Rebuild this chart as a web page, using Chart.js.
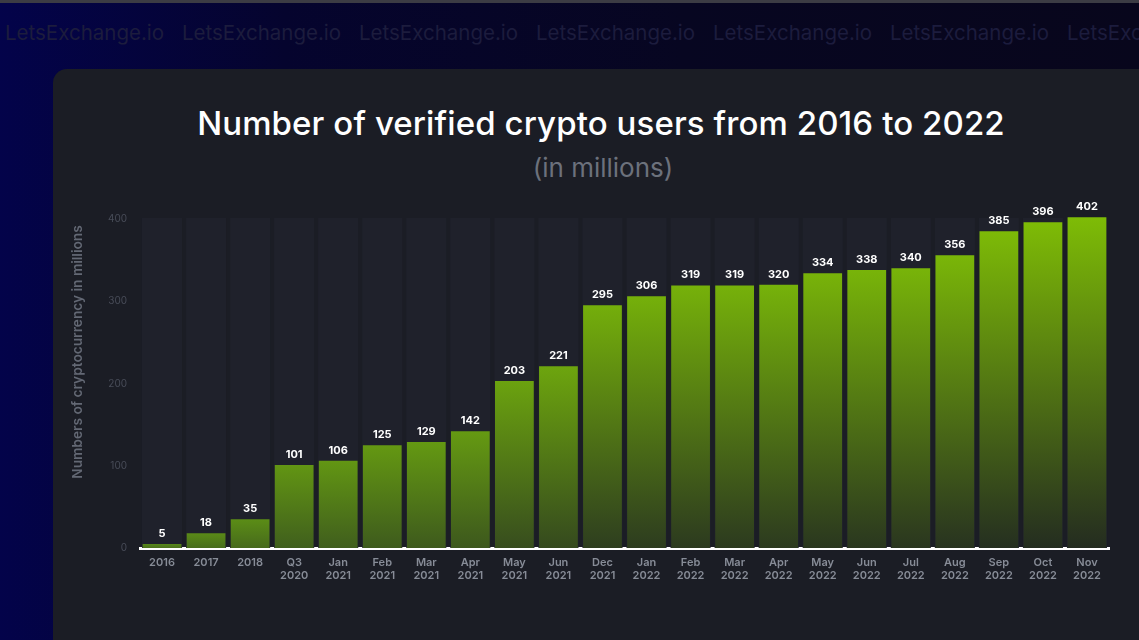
<!DOCTYPE html>
<html>
<head>
<meta charset="utf-8">
<script src="https://cdn.jsdelivr.net/npm/chart.js@4.4.0/dist/chart.umd.min.js"></script>
<style>
  html, body { margin: 0; padding: 0; }
  body {
    width: 1139px; height: 640px; overflow: hidden; position: relative;
    background: linear-gradient(90deg, #03034a 0%, #05042e 25%, #070621 60%, #08061c 100%);
    font-family: Inter, "Noto Sans", sans-serif;
  }
  .topline { position: absolute; left: 0; top: 0; width: 100%; height: 3px; background: #3c3c44; }
  .mark { position: absolute; top: 20px; font-size: 20.5px; color: #1c1c3d; white-space: nowrap; }
  .panel {
    position: absolute; left: 53px; top: 69px; width: 1120px; height: 620px;
    background: #1b1d25; border-radius: 14px;
  }
  .title {
    position: absolute; left: 0; width: 1202px; top: 103px; text-align: center;
    color: #ffffff; font-size: 33px; font-weight: 500; letter-spacing: 0.1px;
  }
  .subtitle {
    position: absolute; left: 0; width: 1206px; top: 152px; text-align: center;
    color: #6c717c; font-size: 26px;
  }
  #chart { position: absolute; left: 0; top: 0; }
</style>
</head>
<body>
<div class="topline"></div>
<div id="marks"></div>
<div class="panel"></div>
<div class="title">Number of verified crypto users from 2016 to 2022</div>
<div class="subtitle">(in millions)</div>
<canvas id="chart" width="1139" height="640"></canvas>
<script>
const categories = [
  ['2016'], ['2017'], ['2018'], ['Q3', '2020'],
  ['Jan', '2021'], ['Feb', '2021'], ['Mar', '2021'], ['Apr', '2021'],
  ['May', '2021'], ['Jun', '2021'], ['Dec', '2021'], ['Jan', '2022'],
  ['Feb', '2022'], ['Mar', '2022'], ['Apr', '2022'], ['May', '2022'],
  ['Jun', '2022'], ['Jul', '2022'], ['Aug', '2022'], ['Sep', '2022'],
  ['Oct', '2022'], ['Nov', '2022']
];
const users = [5, 18, 35, 101, 106, 125, 129, 142, 203, 221, 295, 306, 319, 319, 320, 334, 338, 340, 356, 385, 396, 402];
const yTicks = [0, 100, 200, 300, 400];
const yTitle = 'Numbers of cryptocurrency in millions';

// watermark row
const marks = document.getElementById('marks');
for (let i = 0; i < 7; i++) {
  const d = document.createElement('div');
  d.className = 'mark';
  d.style.left = (5 + i * 177) + 'px';
  d.textContent = 'LetsExchange.io';
  marks.appendChild(d);
}

function mix(a, b, t) {
  const r = a.map((v, i) => Math.round(v + (b[i] - v) * t));
  return `rgb(${r[0]},${r[1]},${r[2]})`;
}

// grey column behind every bar
const tracks = {
  id: 'tracks',
  beforeDatasetsDraw(chart) {
    const { ctx, scales: { x, y }, chartArea } = chart;
    const w = x.width / categories.length * 0.91;
    const top = y.getPixelForValue(400) - 1;
    ctx.save();
    ctx.fillStyle = '#1f212b';
    categories.forEach((c, i) => {
      const cx = x.getPixelForValue(i);
      ctx.fillRect(cx - w / 2, top, w, chartArea.bottom - top);
    });
    ctx.restore();
  }
};

const valueLabels = {
  id: 'valueLabels',
  afterDatasetsDraw(chart) {
    const { ctx } = chart;
    const meta = chart.getDatasetMeta(0);
    ctx.save();
    ctx.fillStyle = '#ffffff';
    ctx.font = 'bold 11px Inter, sans-serif';
    ctx.textAlign = 'center';
    ctx.textBaseline = 'bottom';
    meta.data.forEach((bar, i) => {
      ctx.fillText(users[i], bar.x, bar.y - 5);
    });
    ctx.restore();
  }
};

const axisTitle = {
  id: 'axisTitle',
  afterDraw(chart) {
    const { ctx } = chart;
    ctx.save();
    ctx.translate(78, 352);
    ctx.rotate(-Math.PI / 2);
    ctx.fillStyle = '#636874';
    ctx.font = '600 13.7px Inter, sans-serif';
    ctx.textAlign = 'center';
    ctx.textBaseline = 'middle';
    ctx.fillText(yTitle, 0, 0);
    ctx.restore();
  }
};

new Chart(document.getElementById('chart'), {
  type: 'bar',
  data: {
    labels: categories,
    datasets: [{
      data: users,
      clip: false,
      barPercentage: 0.88,
      categoryPercentage: 1,
      backgroundColor(context) {
        const chart = context.chart;
        const y = chart.scales.y;
        if (!chart.chartArea || !y) return '#6a9f10';
        const v = context.raw;
        const t = Math.min(v / 400, 1);
        const top = y.getPixelForValue(v);
        const bottom = y.getPixelForValue(0);
        if (!isFinite(top) || !isFinite(bottom)) return '#6a9f10';
        const g = chart.ctx.createLinearGradient(0, top, 0, bottom);
        g.addColorStop(0, mix([88, 136, 24], [126, 188, 6], t));
        g.addColorStop(1, mix([74, 112, 28], [36, 44, 32], t));
        return g;
      }
    }]
  },
  options: {
    responsive: false,
    animation: false,
    layout: { padding: { left: 0, top: 219, right: 30, bottom: 32 } },
    plugins: { legend: { display: false }, tooltip: { enabled: false } },
    scales: {
      x: {
        afterFit(s) { s.height = 60; },
        grid: { display: false, drawTicks: false },
        border: { display: true, color: '#ffffff', width: 3 },
        ticks: {
          color: '#878c97',
          padding: 8,
          maxRotation: 0,
          autoSkip: false,
          font: { family: 'Inter, sans-serif', size: 11, weight: 600, lineHeight: 1.2 }
        }
      },
      y: {
        min: 0,
        max: 400,
        afterFit(s) { s.width = 140; },
        afterBuildTicks(s) { s.ticks = yTicks.map(v => ({ value: v })); },
        grid: { display: false, drawTicks: false },
        border: { display: false },
        ticks: {
          color: '#484c58',
          padding: 13,
          font: { family: 'Inter, sans-serif', size: 10 }
        }
      }
    }
  },
  plugins: [tracks, valueLabels, axisTitle]
});
</script>
</body>
</html>
